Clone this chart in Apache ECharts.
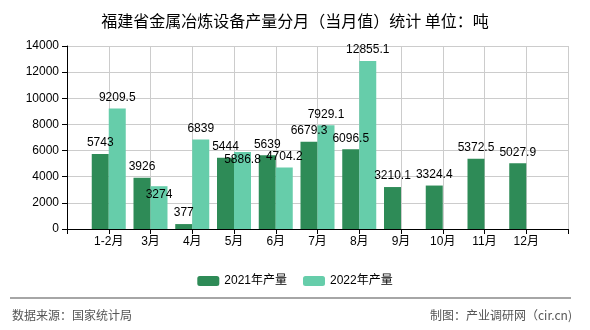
<!DOCTYPE html>
<html>
<head>
<meta charset="utf-8">
<script src="https://cdn.jsdelivr.net/npm/echarts@6/dist/echarts.min.js"></script>
<style>
html,body{margin:0;padding:0;background:#fff;}
#chart{width:590px;height:330px;}
</style>
</head>
<body>
<div id="chart"></div>
<script>
const titleText = '福建省金属冶炼设备产量分月（当月值）统计 单位：吨';
const categories = ['1-2月','3月','4月','5月','6月','7月','8月','9月','10月','11月','12月'];
const values2021 = [5743, 3926, 377, 5444, 5639, 6679.3, 6096.5, 3210.1, 3324.4, 5372.5, 5027.9];
const values2022 = [9209.5, 3274, 6839, 5886.8, 4704.2, 7929.1, 12855.1, null, null, null, null];
const seriesNames = ['2021年产量', '2022年产量'];
const sourceText = '数据来源：国家统计局';
const creditText = '制图：产业调研网（cir.cn)';

const insideLabelCats = ['3月', '5月'];

const axisCats = [''].concat(categories, ['']);
const pad = arr => [null].concat(arr, [null]);

const font = "'Liberation Sans','Noto Sans CJK SC',sans-serif";

const chart = echarts.init(document.getElementById('chart'), null, {renderer: 'canvas'});
const option = {
  animation: false,
  backgroundColor: '#fff',
  title: {
    text: titleText,
    left: 'center',
    top: 8,
    textStyle: {fontSize: 16, fontWeight: 'normal', color: '#000', fontFamily: "'Noto Sans CJK SC',sans-serif"}
  },
  legend: {
    data: seriesNames,
    left: 'center',
    top: 270,
    itemWidth: 22,
    itemHeight: 10,
    itemGap: 16,
    textStyle: {fontSize: 12, color: '#000', fontFamily: font}
  },
  grid: {left: 67, right: 22, top: 46, bottom: 101, containLabel: false},
  xAxis: {
    type: 'category',
    data: axisCats,
    boundaryGap: false,
    axisLine: {lineStyle: {color: '#000'}},
    axisTick: {show: true, length: 5, lineStyle: {color: '#000'}},
    axisLabel: {color: '#000', fontSize: 12, margin: 7, fontFamily: font, interval: 0},
    splitLine: {show: true, lineStyle: {color: '#ccc'}}
  },
  yAxis: {
    type: 'value',
    min: 0,
    max: 14000,
    interval: 2000,
    axisLine: {show: true, lineStyle: {color: '#000'}},
    axisTick: {show: true, length: 5, lineStyle: {color: '#000'}},
    axisLabel: {color: '#000', fontSize: 12, margin: 8, fontFamily: font, formatter: v => String(v)},
    splitLine: {show: true, lineStyle: {color: '#ccc'}}
  },
  series: [
    {
      name: seriesNames[0],
      type: 'bar',
      data: pad(values2021),
      barWidth: 17,
      barGap: '0%',
      itemStyle: {color: '#2e8b57'},
      label: {show: true, position: 'top', distance: 5, color: '#000', fontSize: 12, fontFamily: font}
    },
    {
      name: seriesNames[1],
      type: 'bar',
      data: pad(values2022).map((v, i) =>
        insideLabelCats.indexOf(axisCats[i]) >= 0
          ? {value: v, label: {position: 'insideTop', distance: 2}}
          : v),
      barWidth: 17,
      barGap: '0%',
      itemStyle: {color: '#66cdaa'},
      label: {show: true, position: 'top', distance: 5, color: '#000', fontSize: 12, fontFamily: font}
    }
  ],
  graphic: [
    {type: 'line', shape: {x1: 10, y1: 298, x2: 571, y2: 298}, style: {stroke: '#888', lineWidth: 1.5}},
    {type: 'text', left: 12, top: 309, style: {text: sourceText, fill: '#555', fontSize: 12, fontFamily: "'Noto Sans CJK SC',sans-serif"}},
    {type: 'text', right: 18, top: 309, style: {text: creditText, fill: '#555', fontSize: 12, fontFamily: "'Noto Sans CJK SC',sans-serif"}}
  ]
};
chart.setOption(option);
</script>
</body>
</html>
